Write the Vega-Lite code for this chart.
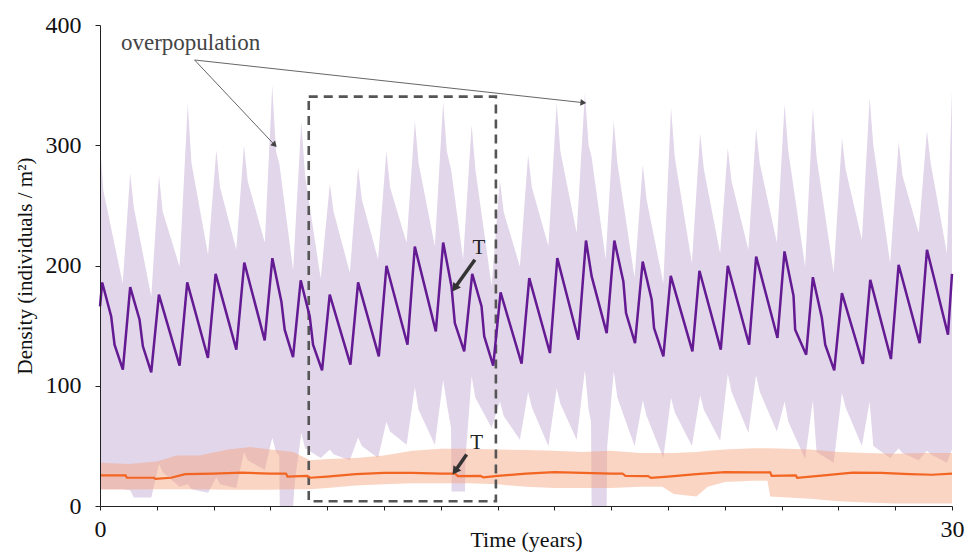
{
  "$schema": "https://vega.github.io/schema/vega-lite/v6.json",
  "width": 852,
  "height": 481,
  "autosize": {"type": "none"},
  "padding": {"left": 100, "top": 25, "right": 16, "bottom": 49},
  "background": "white",
  "config": {
    "view": {"stroke": null},
    "font": "Liberation Serif",
    "axis": {"grid": false, "labelFont": "Liberation Serif", "titleFont": "Liberation Serif", "labelColor": "#111", "titleColor": "#111", "domainColor": "#222", "tickColor": "#222", "titleFontWeight": "normal"}
  },
  "datasets": {
    "mean": [
      {"t":0,"v":166},{"t":0.077,"v":185.9},{"t":0.394,"v":157.7},{"t":0.512,"v":134.1},{"t":0.805,"v":113.4},
      {"t":1.063,"v":182},{"t":1.393,"v":154.9},{"t":1.51,"v":132.8},{"t":1.804,"v":111.2},
      {"t":2.074,"v":175.7},{"t":2.802,"v":116.7},{"t":3.072,"v":185.9},{"t":3.8,"v":123.1},
      {"t":4.071,"v":193.1},{"t":4.8,"v":130},{"t":5.081,"v":202.5},{"t":5.799,"v":137.7},
      {"t":6.069,"v":206.1},{"t":6.386,"v":170.1},{"t":6.503,"v":146.6},{"t":6.797,"v":123.9},
      {"t":7.067,"v":187.6},{"t":7.385,"v":157.7},{"t":7.502,"v":134.1},{"t":7.819,"v":112.8},
      {"t":8.089,"v":175.7},{"t":8.818,"v":117.5},{"t":9.088,"v":185.9},{"t":9.817,"v":124.4},
      {"t":10.087,"v":199.8},{"t":10.827,"v":134.1},{"t":11.085,"v":215.8},{"t":11.825,"v":145.2},
      {"t":12.084,"v":219.1},{"t":12.377,"v":182.6},{"t":12.494,"v":152.1},{"t":12.824,"v":128.6},
      {"t":13.106,"v":193.1},{"t":13.435,"v":166},{"t":13.529,"v":141.1},{"t":13.845,"v":116.7},
      {"t":14.105,"v":177.6},{"t":14.845,"v":118.4},{"t":15.115,"v":189.5},{"t":15.843,"v":127.2},
      {"t":16.102,"v":206.1},{"t":16.842,"v":138.3},{"t":17.112,"v":220.8},{"t":17.312,"v":190.9},
      {"t":17.841,"v":143.8},{"t":18.111,"v":220.8},{"t":18.428,"v":186.7},{"t":18.522,"v":160.4},
      {"t":18.839,"v":135.5},{"t":19.109,"v":203.3},{"t":19.426,"v":171.5},{"t":19.509,"v":148},
      {"t":19.837,"v":124.4},{"t":20.097,"v":191.4},{"t":20.86,"v":128.6},{"t":21.107,"v":195.6},
      {"t":21.858,"v":130},{"t":22.105,"v":199.8},{"t":22.856,"v":134.1},{"t":23.104,"v":207.5},
      {"t":23.855,"v":139.7},{"t":24.102,"v":211.7},{"t":24.42,"v":174.8},{"t":24.478,"v":146.6},
      {"t":24.866,"v":125.8},{"t":25.101,"v":190.3},{"t":25.418,"v":156.3},{"t":25.536,"v":134.1},
      {"t":25.853,"v":112.8},{"t":26.124,"v":177.1},{"t":26.863,"v":118.1},{"t":27.122,"v":188.1},
      {"t":27.85,"v":122.2},{"t":28.12,"v":200.6},{"t":28.861,"v":135.5},{"t":29.119,"v":213},
      {"t":29.354,"v":190.9},{"t":29.859,"v":142.4},{"t":30,"v":193.1}
    ],
    "band": [
      {"t":0,"hi":302,"lo":14},{"t":0.12,"hi":262,"lo":14},{"t":0.8,"hi":185,"lo":14},
      {"t":1.062,"hi":277,"lo":13},{"t":1.193,"hi":248,"lo":7},{"t":1.806,"hi":174,"lo":7},
      {"t":2.077,"hi":275,"lo":35},{"t":2.207,"hi":245,"lo":28},{"t":2.8,"hi":199,"lo":16},
      {"t":3.091,"hi":334,"lo":18},{"t":3.222,"hi":285,"lo":14},{"t":3.805,"hi":209,"lo":11},
      {"t":4.096,"hi":296,"lo":24},{"t":4.227,"hi":265,"lo":18},{"t":4.799,"hi":213,"lo":15},
      {"t":5.07,"hi":300,"lo":45},{"t":5.201,"hi":270,"lo":38},{"t":5.804,"hi":219,"lo":30},
      {"t":6.065,"hi":350,"lo":57},{"t":6.195,"hi":295,"lo":45},{"t":6.31,"hi":285,"lo":42},
      {"t":6.33,"hi":282,"lo":0},{"t":6.8,"hi":196,"lo":0},{"t":6.86,"hi":222,"lo":20},
      {"t":7.089,"hi":320,"lo":61},{"t":7.22,"hi":275,"lo":48},{"t":7.772,"hi":189,"lo":40},
      {"t":8.094,"hi":268,"lo":47},{"t":8.224,"hi":245,"lo":43},{"t":8.797,"hi":194,"lo":38},
      {"t":9.088,"hi":282,"lo":57},{"t":9.219,"hi":255,"lo":50},{"t":9.791,"hi":205,"lo":40},
      {"t":10.083,"hi":295,"lo":70},{"t":10.213,"hi":265,"lo":62},{"t":10.796,"hi":219,"lo":51},
      {"t":11.087,"hi":320,"lo":99},{"t":11.218,"hi":285,"lo":80},{"t":11.79,"hi":216,"lo":51},
      {"t":12.082,"hi":336,"lo":105},{"t":12.212,"hi":295,"lo":85},{"t":12.36,"hi":280,"lo":65},
      {"t":12.38,"hi":277,"lo":12},{"t":12.785,"hi":205,"lo":12},{"t":12.85,"hi":229,"lo":12},
      {"t":12.87,"hi":236,"lo":40},
      {"t":13.086,"hi":317,"lo":108},{"t":13.217,"hi":280,"lo":90},{"t":13.789,"hi":183,"lo":65},
      {"t":14.08,"hi":271,"lo":87},{"t":14.211,"hi":245,"lo":75},{"t":14.784,"hi":199,"lo":55},
      {"t":15.075,"hi":292,"lo":95},{"t":15.206,"hi":265,"lo":82},{"t":15.788,"hi":216,"lo":50},
      {"t":16.08,"hi":335,"lo":98},{"t":16.21,"hi":295,"lo":85},{"t":16.783,"hi":227,"lo":55},
      {"t":17.074,"hi":343,"lo":113},{"t":17.205,"hi":300,"lo":80},{"t":17.29,"hi":292,"lo":70},
      {"t":17.31,"hi":290,"lo":0},{"t":17.807,"hi":205,"lo":0},{"t":17.84,"hi":220,"lo":0},
      {"t":17.86,"hi":228,"lo":50},
      {"t":18.089,"hi":320,"lo":112},{"t":18.219,"hi":285,"lo":90},{"t":18.822,"hi":190,"lo":50},
      {"t":19.113,"hi":284,"lo":88},{"t":19.244,"hi":255,"lo":75},{"t":19.836,"hi":185,"lo":40},
      {"t":20.107,"hi":331,"lo":90},{"t":20.238,"hi":290,"lo":78},{"t":20.841,"hi":202,"lo":50},
      {"t":21.132,"hi":310,"lo":92},{"t":21.263,"hi":280,"lo":80},{"t":21.836,"hi":210,"lo":54},
      {"t":22.106,"hi":298,"lo":110},{"t":22.237,"hi":270,"lo":95},{"t":22.83,"hi":213,"lo":61},
      {"t":23.101,"hi":314,"lo":109},{"t":23.232,"hi":285,"lo":95},{"t":23.834,"hi":219,"lo":62},
      {"t":24.105,"hi":334,"lo":87},{"t":24.236,"hi":295,"lo":70},{"t":24.829,"hi":199,"lo":39},
      {"t":25.1,"hi":331,"lo":88},{"t":25.231,"hi":290,"lo":45},{"t":25.833,"hi":194,"lo":36},
      {"t":26.125,"hi":306,"lo":94},{"t":26.255,"hi":280,"lo":82},{"t":26.828,"hi":221,"lo":50},
      {"t":27.099,"hi":339,"lo":87},{"t":27.23,"hi":300,"lo":50},{"t":27.822,"hi":202,"lo":40},
      {"t":28.124,"hi":303,"lo":48},{"t":28.254,"hi":275,"lo":44},{"t":28.827,"hi":227,"lo":38},
      {"t":29.118,"hi":312,"lo":46},{"t":29.249,"hi":285,"lo":43},{"t":29.822,"hi":210,"lo":36},
      {"t":30,"hi":346,"lo":47}
    ],
    "oband": [
      {"t":0,"hi":36,"lo":13.7},{"t":1,"hi":35,"lo":13.7},{"t":2,"hi":37,"lo":14},{"t":2.7,"hi":42,"lo":14},
      {"t":3.5,"hi":42,"lo":14},{"t":4.5,"hi":47,"lo":13.5},{"t":5.3,"hi":49,"lo":13.5},{"t":6,"hi":47,"lo":13.5},
      {"t":6.8,"hi":45,"lo":14},{"t":7.4,"hi":38,"lo":14},{"t":8,"hi":39,"lo":15},{"t":9,"hi":40,"lo":17},
      {"t":10,"hi":42,"lo":18},{"t":11,"hi":46,"lo":19},{"t":12,"hi":47.6,"lo":19},{"t":13,"hi":47.6,"lo":19},
      {"t":14,"hi":47,"lo":18},{"t":15,"hi":46.5,"lo":16},{"t":16,"hi":46,"lo":15},{"t":17,"hi":45,"lo":15},
      {"t":18,"hi":46,"lo":15},{"t":19,"hi":44,"lo":16},{"t":19.8,"hi":44,"lo":16},{"t":20.2,"hi":44,"lo":10},
      {"t":21,"hi":45,"lo":8},{"t":21.4,"hi":46,"lo":16},{"t":22,"hi":47,"lo":20},{"t":23,"hi":48,"lo":21},
      {"t":23.5,"hi":48,"lo":21},{"t":23.6,"hi":48,"lo":8},{"t":25,"hi":47,"lo":6},{"t":26,"hi":45,"lo":4},
      {"t":27,"hi":44,"lo":3},{"t":28,"hi":43.5,"lo":2},{"t":29,"hi":44,"lo":2},{"t":30,"hi":44,"lo":2}
    ],
    "omean": [
      {"t":0,"v":25.5},{"t":0.9,"v":25.5},{"t":0.95,"v":23.5},{"t":1.9,"v":23.5},{"t":1.95,"v":22.5},
      {"t":2.5,"v":23.5},{"t":3,"v":26.5},{"t":4,"v":27},{"t":5,"v":27.7},{"t":6,"v":27},{"t":6.55,"v":27},
      {"t":6.6,"v":24.5},{"t":7.3,"v":25},{"t":7.4,"v":23.5},{"t":8,"v":24.5},{"t":9,"v":26.5},{"t":10,"v":27.5},
      {"t":11,"v":27.5},{"t":12,"v":27},{"t":12.5,"v":27},{"t":12.6,"v":24.8},{"t":13.4,"v":25},{"t":13.5,"v":23.8},
      {"t":14,"v":25},{"t":15,"v":27},{"t":16,"v":28.2},{"t":17,"v":27.5},{"t":18,"v":27},{"t":18.4,"v":27},
      {"t":18.5,"v":25},{"t":19.3,"v":24.8},{"t":19.4,"v":23.4},{"t":20,"v":24.5},{"t":21,"v":26.5},{"t":22,"v":28.2},
      {"t":23,"v":28},{"t":23.6,"v":28},{"t":23.65,"v":25},{"t":24.5,"v":25.5},{"t":24.55,"v":23.4},{"t":25.5,"v":25.5},
      {"t":26.5,"v":27.7},{"t":27.5,"v":27.5},{"t":28.5,"v":26.5},{"t":29.3,"v":26},{"t":30,"v":27}
    ],
    "box": [{"t1":7.35,"t2":13.94,"v1":4,"v2":340.4}],
    "thin": [
      {"id":"a","t":3.33,"v":370.9},{"id":"a","t":6.15,"v":300.2},
      {"id":"b","t":3.33,"v":370.9},{"id":"b","t":17.02,"v":335.4}
    ],
    "thick": [
      {"id":"c","t":13.2,"v":204.7},{"id":"c","t":12.49,"v":181.2},
      {"id":"d","t":12.91,"v":42.8},{"id":"d","t":12.5,"v":28.9}
    ],
    "heads": [
      {"id":"a","t":6.15,"v":300.2},{"id":"b","t":17.02,"v":335.4},
      {"id":"c","t":12.49,"v":181.2},{"id":"d","t":12.5,"v":28.9}
    ],
    "labels": [
      {"label":"overpopulation","t":3.19,"v":379},
      {"label":"T","t":13.34,"v":214.5},
      {"label":"T","t":13.26,"v":52.5}
    ]
  },
  "layer": [
    {
      "data": {"name": "band"},
      "mark": {"type": "area", "color": "#e2d6ea", "opacity": 1},
      "encoding": {
        "x": {"field": "t", "type": "quantitative", "scale": {"domain": [0, 30], "nice": false, "zero": false},
          "axis": {"title": "Time (years)", "titleFontSize": 22, "titlePadding": -12, "zindex": 1,
            "values": [0,1,2,3,4,5,6,7,8,9,10,11,12,13,14,15,16,17,18,19,20,21,22,23,24,25,26,27,28,29,30],
            "labelExpr": "datum.value === 0 || datum.value === 30 ? datum.label : ''",
            "labelFlush": false, "labelFontSize": 24, "tickSize": 4, "labelPadding": 7}},
        "y": {"field": "hi", "type": "quantitative", "scale": {"domain": [0, 400], "nice": false},
          "axis": {"title": "Density (individuals / m²)", "titleFontSize": 21, "titlePadding": 10, "zindex": 1,
            "values": [0, 100, 200, 300, 400], "labelFontSize": 24, "tickSize": 5, "labelPadding": 14}},
        "y2": {"field": "lo"}
      }
    },
    {
      "data": {"name": "oband"},
      "mark": {"type": "area", "color": "#f7a27a", "opacity": 0.45},
      "encoding": {
        "x": {"field": "t", "type": "quantitative"},
        "y": {"field": "hi", "type": "quantitative"},
        "y2": {"field": "lo"}
      }
    },
    {
      "data": {"name": "box"},
      "mark": {"type": "rect", "filled": false, "color": "#555", "strokeWidth": 2.6, "strokeDash": [9, 6]},
      "encoding": {
        "x": {"field": "t1", "type": "quantitative"},
        "x2": {"field": "t2"},
        "y": {"field": "v1", "type": "quantitative"},
        "y2": {"field": "v2"}
      }
    },
    {
      "data": {"name": "mean"},
      "mark": {"type": "line", "color": "#631a92", "strokeWidth": 2.5, "strokeJoin": "miter"},
      "encoding": {
        "x": {"field": "t", "type": "quantitative"},
        "y": {"field": "v", "type": "quantitative"}
      }
    },
    {
      "data": {"name": "omean"},
      "mark": {"type": "line", "color": "#f26522", "strokeWidth": 2.2},
      "encoding": {
        "x": {"field": "t", "type": "quantitative"},
        "y": {"field": "v", "type": "quantitative"}
      }
    },
    {
      "data": {"name": "thin"},
      "mark": {"type": "line", "color": "#666", "strokeWidth": 1},
      "encoding": {
        "x": {"field": "t", "type": "quantitative"},
        "y": {"field": "v", "type": "quantitative"},
        "detail": {"field": "id"}
      }
    },
    {
      "data": {"name": "thick"},
      "mark": {"type": "line", "color": "#333", "strokeWidth": 3.5},
      "encoding": {
        "x": {"field": "t", "type": "quantitative"},
        "y": {"field": "v", "type": "quantitative"},
        "detail": {"field": "id"}
      }
    },
    {
      "data": {"name": "heads"},
      "transform": [{"filter": "datum.id === 'a'"}],
      "mark": {"type": "point", "shape": "triangle-up", "filled": true, "color": "#444", "size": 45, "angle": 136.7, "opacity": 1},
      "encoding": {
        "x": {"field": "t", "type": "quantitative"},
        "y": {"field": "v", "type": "quantitative"}
      }
    },
    {
      "data": {"name": "heads"},
      "transform": [{"filter": "datum.id === 'b'"}],
      "mark": {"type": "point", "shape": "triangle-up", "filled": true, "color": "#444", "size": 45, "angle": 96.3, "opacity": 1},
      "encoding": {
        "x": {"field": "t", "type": "quantitative"},
        "y": {"field": "v", "type": "quantitative"}
      }
    },
    {
      "data": {"name": "heads"},
      "transform": [{"filter": "datum.id === 'c' || datum.id === 'd'"}],
      "mark": {"type": "point", "shape": "triangle-up", "filled": true, "color": "#333", "size": 90, "angle": 215, "opacity": 1},
      "encoding": {
        "x": {"field": "t", "type": "quantitative"},
        "y": {"field": "v", "type": "quantitative"}
      }
    },
    {
      "data": {"name": "labels"},
      "transform": [{"filter": "datum.label === 'overpopulation'"}],
      "mark": {"type": "text", "font": "Liberation Serif", "fontSize": 23, "color": "#444", "align": "center", "baseline": "alphabetic"},
      "encoding": {
        "x": {"field": "t", "type": "quantitative"},
        "y": {"field": "v", "type": "quantitative"},
        "text": {"field": "label"}
      }
    },
    {
      "data": {"name": "labels"},
      "transform": [{"filter": "datum.label === 'T'"}],
      "mark": {"type": "text", "font": "Liberation Serif", "fontSize": 21, "color": "#222", "align": "center", "baseline": "middle"},
      "encoding": {
        "x": {"field": "t", "type": "quantitative"},
        "y": {"field": "v", "type": "quantitative"},
        "text": {"field": "label"}
      }
    }
  ]
}
